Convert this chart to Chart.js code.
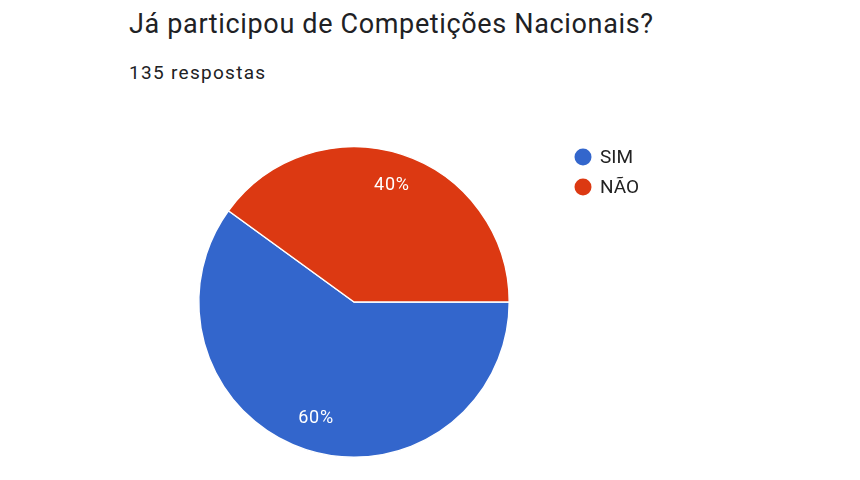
<!DOCTYPE html>
<html>
<head>
<meta charset="utf-8">
<script src="https://cdn.jsdelivr.net/npm/chart.js@4"></script>
<style>
  html, body { margin: 0; padding: 0; background: #fff; }
  #wrap { position: relative; width: 860px; height: 480px; overflow: hidden; font-family: Roboto, Arial, sans-serif; color: #202124; }
  #title { position: absolute; left: 129px; top: 8px; font-size: 27px; letter-spacing: 0.65px; white-space: nowrap; }
  #sub { position: absolute; left: 129px; top: 61px; font-size: 19px; letter-spacing: 1.3px; white-space: nowrap; }
  canvas { position: absolute; left: 0; top: 0; }
</style>
</head>
<body>
<div id="wrap">
  <div id="title">Já participou de Competições Nacionais?</div>
  <div id="sub">135 respostas</div>
  <canvas id="pie" width="860" height="480"></canvas>
</div>
<script>
const labels = ['SIM', 'NÃO'];
const counts = [81, 54];
const colors = ['#3366cc', '#dc3912'];

// percent labels inside each slice
const sliceLabels = {
  id: 'sliceLabels',
  afterDatasetsDraw(chart) {
    const ctx = chart.ctx;
    const meta = chart.getDatasetMeta(0);
    const total = counts.reduce((a, b) => a + b, 0);
    ctx.save();
    ctx.fillStyle = '#ffffff';
    ctx.font = '18px Roboto, Arial, sans-serif';
    ctx.letterSpacing = '0.8px';
    ctx.textAlign = 'center';
    ctx.textBaseline = 'middle';
    meta.data.forEach((arc, i) => {
      const mid = (arc.startAngle + arc.endAngle) / 2;
      const r = arc.outerRadius * 0.79;
      const x = arc.x + Math.cos(mid) * r;
      const y = arc.y + Math.sin(mid) * r;
      ctx.fillText(Math.round(counts[i] / total * 100) + '%', x, y);
    });
    ctx.restore();
  }
};

// legend on the right, dot + label
const sideLegend = {
  id: 'sideLegend',
  afterDraw(chart) {
    const ctx = chart.ctx;
    ctx.save();
    ctx.font = '19px Roboto, Arial, sans-serif';
    ctx.textBaseline = 'middle';
    labels.forEach((lab, i) => {
      const y = 157 + i * 30;
      ctx.fillStyle = colors[i];
      ctx.beginPath();
      ctx.arc(583, y, 8.5, 0, Math.PI * 2);
      ctx.fill();
      ctx.fillStyle = '#222222';
      ctx.fillText(lab, 600, y + 1);
    });
    ctx.restore();
  }
};

new Chart(document.getElementById('pie'), {
  type: 'pie',
  data: {
    labels: labels,
    datasets: [{
      data: counts,
      backgroundColor: colors,
      borderColor: '#ffffff',
      borderWidth: 1.5
    }]
  },
  options: {
    responsive: false,
    animation: false,
    rotation: 90,
    layout: { padding: { left: 198, right: 350, top: 145, bottom: 21 } },
    plugins: {
      legend: { display: false },
      tooltip: { enabled: false }
    }
  },
  plugins: [sliceLabels, sideLegend]
});
</script>
</body>
</html>
